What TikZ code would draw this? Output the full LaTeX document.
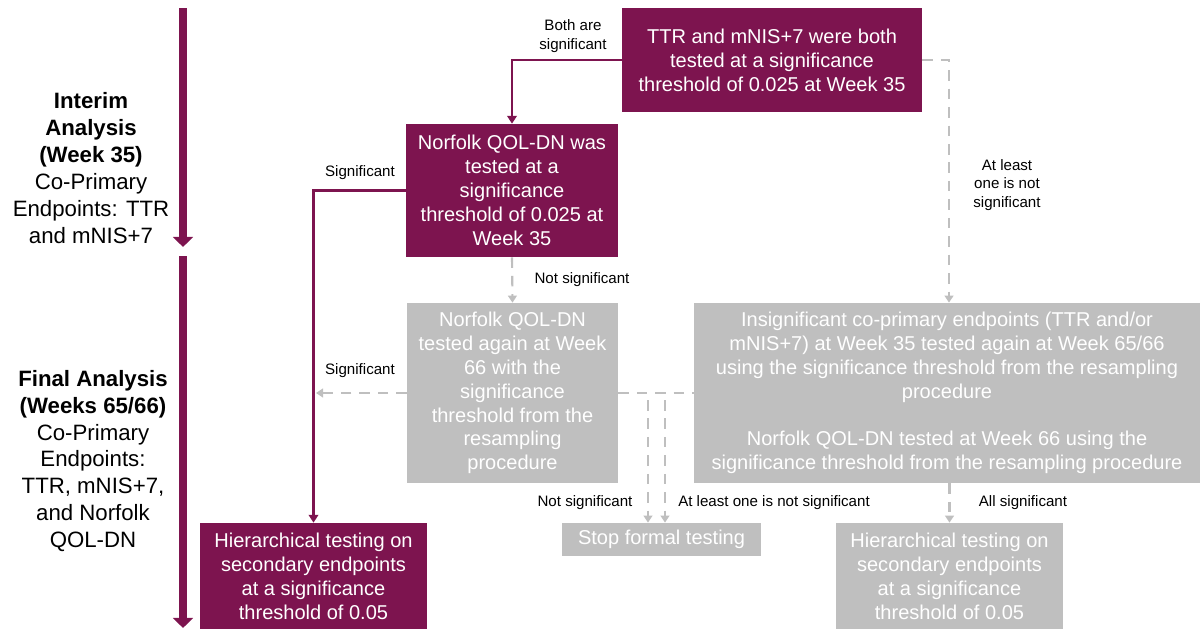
\documentclass[tikz,border=0pt]{standalone}
\usepackage{fontspec}
\setmainfont{Liberation Sans}
\usepackage{xcolor}
\usepackage{tikz}
\usetikzlibrary{arrows.meta}
\definecolor{maroon}{rgb}{0.49,0.08,0.31}
\definecolor{paleGrey}{rgb}{0.75,0.75,0.75}

\begin{document}
\begin{tikzpicture}[x=0.02cm, y=-0.02cm,
    redbox/.style={fill=maroon, text=white, inner sep=0pt, align=center, font=\fontsize{11.4}{13.6}\selectfont},
    greybox/.style={fill=paleGrey, text=white, inner sep=0pt, align=center, font=\fontsize{11.4}{13.6}\selectfont},
    phase/.style={draw=maroon, line width=4pt, -{Triangle[width=11.3pt,length=5.8pt]}},
    yes/.style={draw=maroon, line width=1.2pt, -{Triangle[width=5.5pt,length=4.5pt]}},
    no/.style={draw=paleGrey, line width=1.2pt, dash pattern=on 6pt off 4.5pt, -{Triangle[width=5pt,length=4pt]}},
    note/.style={font=\fontsize{8.6}{10.5}\selectfont, align=center, inner sep=0pt}]
    \useasboundingbox (0,0) rectangle (1201,630);

    % draw timeline arrows
    \draw[phase] (183,8) -- (183,247);
    \draw[phase] (183,256) -- (183,628);

    % draw phase texts
    \node[align=center, font=\fontsize{12.65}{15.3}\selectfont] (interim) at (91,168)
        {\textbf{Interim}\\\textbf{Analysis}\\\textbf{(Week 35)}\\Co-Primary\\Endpoints: TTR\\and mNIS+7};
    \node[align=center, font=\fontsize{12.65}{15.3}\selectfont] (final) at (93,461)
        {\textbf{Final Analysis}\\\textbf{(Weeks 65/66)}\\Co-Primary\\Endpoints:\\TTR, mNIS+7,\\and Norfolk\\QOL-DN};

    % draw boxes
    \node[redbox, minimum width=6cm, minimum height=2.08cm] (both) at (772,60)
        {TTR and mNIS+7 were both\\tested at a significance\\threshold of 0.025 at Week 35};
    \node[redbox, minimum width=4.24cm, minimum height=2.66cm] (qol35) at (512,190.5)
        {Norfolk QOL-DN was\\tested at a\\significance\\threshold of 0.025 at\\Week 35};
    \node[greybox, minimum width=4.22cm, minimum height=3.6cm] (qol66) at (512.5,393)
        {Norfolk QOL-DN\\tested again at Week\\66 with the\\significance\\threshold from the\\resampling\\procedure};
    \node[greybox, minimum width=10.12cm, minimum height=3.6cm] (retest) at (947,393)
        {Insignificant co-primary endpoints (TTR and/or\\mNIS+7) at Week 35 tested again at Week 65/66\\using the significance threshold from the resampling\\procedure\\[13.6pt]Norfolk QOL-DN tested at Week 66 using the\\significance threshold from the resampling procedure};
    \node[redbox, minimum width=4.54cm, minimum height=2.12cm] (hierA) at (313.5,576)
        {Hierarchical testing on\\secondary endpoints\\at a significance\\threshold of 0.05};
    \node[greybox, minimum width=3.98cm, minimum height=0.66cm] (stop) at (661.5,539.5)
        {Stop formal testing};
    \node[greybox, minimum width=4.54cm, minimum height=2.12cm] (hierB) at (949.5,576)
        {Hierarchical testing on\\secondary endpoints\\at a significance\\threshold of 0.05};

    % draw connectors
    \coordinate (sigEnd) at (316,393);
    \coordinate (splitA) at (648,400);
    \coordinate (splitB) at (665,400);
    \draw[yes] (both.west) -| (qol35.north);
    \draw[yes] (qol35.west) -| (hierA.north);
    \draw[no] (both.east) -| ([xshift=0.04cm]retest.north);
    \draw[no] (qol35.south) -- (qol66.north);
    \draw[no] (qol66.west) -- (sigEnd);
    \draw[no, -] (qol66.east) -- (retest.west);
    \draw[no] (splitA) -- (splitA |- stop.north);
    \draw[no] (splitB) -- (splitB |- stop.north);
    \draw[no] (retest.south -| hierB.north) -- (hierB.north);

    % draw labels
    \node[note] (lblBoth) at (573,36) {Both are\\significant};
    \node[note] (lblOne) at (1007,185) {At least\\one is not\\significant};
    \node[note] (lblSig1) at (360,173) {Significant};
    \node[note] (lblNot1) at (582,280) {Not significant};
    \node[note] (lblSig2) at (360,371) {Significant};
    \node[note] (lblNot2) at (585,503) {Not significant};
    \node[note] (lblOne2) at (774,503) {At least one is not significant};
    \node[note] (lblAll) at (1023,503) {All significant};
\end{tikzpicture}
\end{document}
